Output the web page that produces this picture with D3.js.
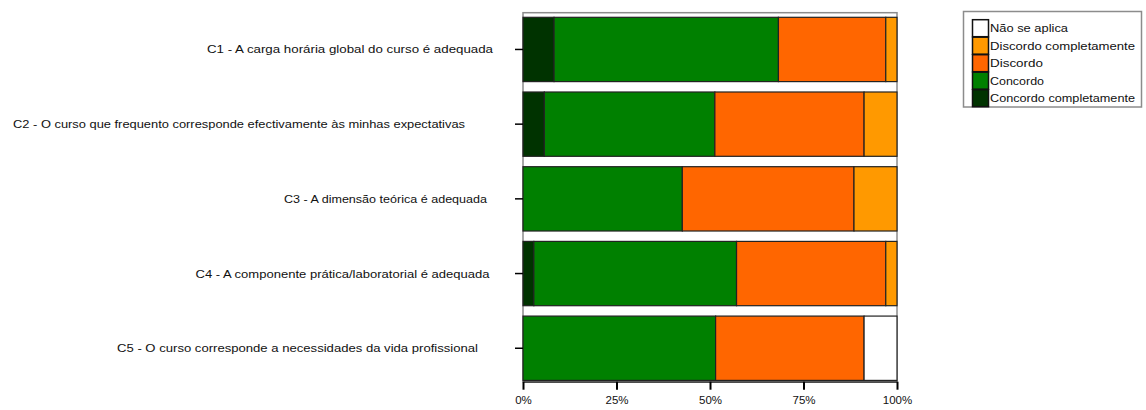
<!DOCTYPE html>
<html>
<head>
<meta charset="utf-8">
<script src="https://cdn.jsdelivr.net/npm/d3@7"></script>
<style>
  html, body { margin: 0; padding: 0; background: #fff; }
  svg { display: block; font-family: "Liberation Sans", Arial, sans-serif; }
</style>
</head>
<body>
<svg id="chart" width="1146" height="410"></svg>
<script>
// ---- data ----
const categories = [
  "C1 - A carga horária global do curso é adequada",
  "C2 - O curso que frequento corresponde efectivamente às minhas expectativas",
  "C3 - A dimensão teórica é adequada",
  "C4 - A componente prática/laboratorial é adequada",
  "C5 - O curso corresponde a necessidades da vida profissional"
];
const seriesNames = ["Concordo completamente", "Concordo", "Discordo", "Discordo completamente", "Não se aplica"];
const concordoCompletamente = [8.3, 5.7, 0, 2.9, 0];
const concordo = [60.0, 45.6, 42.6, 54.2, 51.5];
const discordo = [28.7, 39.9, 45.9, 39.9, 39.7];
const discordoCompletamente = [3.0, 8.8, 11.5, 3.0, 0];
const naoSeAplica = [0, 0, 0, 0, 8.8];
const xTicks = [0, 25, 50, 75, 100];
const legendOrder = ["Não se aplica", "Discordo completamente", "Discordo", "Concordo", "Concordo completamente"];

// ---- styles / layout ----
const colors = {
  "Concordo completamente": "#003300",
  "Concordo": "#008000",
  "Discordo": "#FF6600",
  "Discordo completamente": "#FF9900",
  "Não se aplica": "#FFFFFF"
};
const labelLayout = [ // [right end x, text length]
  [493, 286], [465, 452], [487, 203], [489.5, 294], [478, 361]
];
const legendTextLen = { "Não se aplica": 78, "Discordo completamente": 145, "Discordo": 53, "Concordo": 54, "Concordo completamente": 145 };

const svg = d3.select("#chart");
const plot = { left: 523, right: 897, top: 12.7, bottom: 381.7 };

const rows = categories.map((c, i) => {
  const vals = [concordoCompletamente[i], concordo[i], discordo[i], discordoCompletamente[i], naoSeAplica[i]];
  const o = { category: c };
  seriesNames.forEach((s, j) => o[s] = vals[j]);
  return o;
});
const stacked = d3.stack().keys(seriesNames)(rows);

const x = d3.scaleLinear().domain([0, 100]).range([plot.left, plot.right]);
const y = d3.scaleBand().domain(categories).range([17.3, 380.4]).paddingInner(0.139).paddingOuter(0);

// plot frame
svg.append("rect")
  .attr("x", plot.left).attr("y", plot.top)
  .attr("width", plot.right - plot.left).attr("height", plot.bottom - plot.top)
  .attr("fill", "none").attr("stroke", "#8c8c8c").attr("stroke-width", 1.5);

// bars
svg.append("g").selectAll("g").data(stacked).join("g")
  .attr("fill", d => colors[d.key])
  .selectAll("rect").data(d => d.filter(p => p[1] - p[0] > 0)).join("rect")
  .attr("x", d => x(d[0]))
  .attr("y", d => y(d.data.category))
  .attr("width", d => x(d[1]) - x(d[0]))
  .attr("height", y.bandwidth())
  .attr("stroke", "#222").attr("stroke-width", 1.2);

// y ticks
svg.append("g").selectAll("line").data(categories).join("line")
  .attr("x1", plot.left - 8).attr("x2", plot.left)
  .attr("y1", d => y(d) + y.bandwidth() / 2).attr("y2", d => y(d) + y.bandwidth() / 2)
  .attr("stroke", "#000").attr("stroke-width", 1.5);

// y labels
svg.append("g").selectAll("text").data(categories).join("text")
  .attr("x", (d, i) => labelLayout[i][0] - labelLayout[i][1])
  .attr("y", d => y(d) + y.bandwidth() / 2)
  .attr("dy", "0.35em")
  .attr("textLength", (d, i) => labelLayout[i][1])
  .attr("lengthAdjust", "spacingAndGlyphs")
  .attr("font-size", 11.5)
  .attr("fill", "#111")
  .text(d => d);

// x axis
const xAxis = svg.append("g")
  .attr("transform", `translate(0,${plot.bottom})`)
  .call(d3.axisBottom(x).tickValues(xTicks).tickFormat(d => d + "%").tickSize(8).tickSizeOuter(0));
xAxis.select(".domain").attr("stroke", "#222").attr("stroke-width", 1.2);
xAxis.selectAll(".tick line").attr("stroke", "#000").attr("stroke-width", 2);
xAxis.selectAll(".tick text").attr("font-size", 11.5).attr("font-family", "Liberation Sans, Arial, sans-serif")
  .attr("fill", "#111").attr("y", 13).attr("dy", "0.85em");

// legend
const legend = svg.append("g");
legend.append("rect")
  .attr("x", 963.5).attr("y", 11.5).attr("width", 178).attr("height", 95.5)
  .attr("fill", "#fff").attr("stroke", "#8c8c8c").attr("stroke-width", 1.5);
const li = legend.selectAll("g.item").data(legendOrder).join("g")
  .attr("class", "item")
  .attr("transform", (d, i) => `translate(972.5,${19.7 + i * 17.5})`);
li.append("rect")
  .attr("width", 16).attr("height", 17)
  .attr("fill", d => colors[d]).attr("stroke", "#111").attr("stroke-width", 1.5);
li.append("text")
  .attr("x", 17.5).attr("y", 8.5).attr("dy", "0.35em")
  .attr("font-size", 11.5).attr("fill", "#111")
  .attr("textLength", d => legendTextLen[d]).attr("lengthAdjust", "spacingAndGlyphs")
  .text(d => d);
</script>
</body>
</html>
